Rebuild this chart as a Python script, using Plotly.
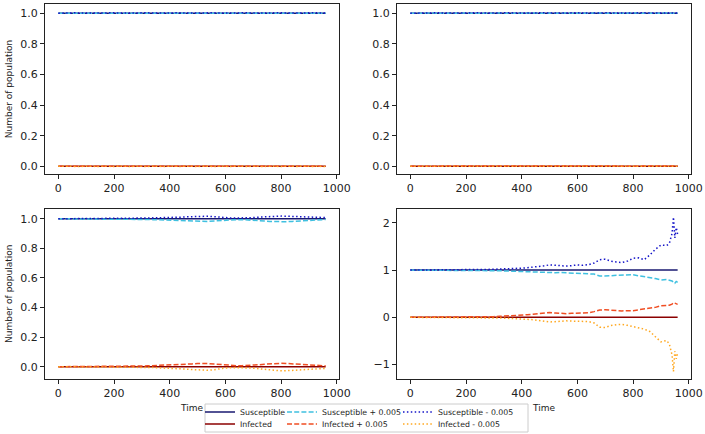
import plotly.graph_objects as go

# ---------------- data ----------------
time = [0, 20, 40, 60, 80, 100, 120, 140, 160, 180,
        200, 220, 240, 260, 280, 300, 320, 340, 360, 380,
        400, 420, 440, 460, 480, 500, 520, 540, 560, 580,
        600, 620, 640, 660, 680, 700, 720, 740, 760, 780,
        800, 820, 840, 860, 880, 900, 920, 930, 940, 945,
        950, 955, 960]

susceptible = [1.0, 1.0, 1.0, 1.0, 1.0, 1.0, 1.0, 1.0, 1.0, 1.0,
               1.0, 1.0, 1.0, 1.0, 1.0, 1.0, 1.0, 1.0, 1.0, 1.0,
               1.0, 1.0, 1.0, 1.0, 1.0, 1.0, 1.0, 1.0, 1.0, 1.0,
               1.0, 1.0, 1.0, 1.0, 1.0, 1.0, 1.0, 1.0, 1.0, 1.0,
               1.0, 1.0, 1.0, 1.0, 1.0, 1.0, 1.0, 1.0, 1.0, 1.0,
               1.0, 1.0, 1.0]
infected = [0.0, 0.0, 0.0, 0.0, 0.0, 0.0, 0.0, 0.0, 0.0, 0.0,
            0.0, 0.0, 0.0, 0.0, 0.0, 0.0, 0.0, 0.0, 0.0, 0.0,
            0.0, 0.0, 0.0, 0.0, 0.0, 0.0, 0.0, 0.0, 0.0, 0.0,
            0.0, 0.0, 0.0, 0.0, 0.0, 0.0, 0.0, 0.0, 0.0, 0.0,
            0.0, 0.0, 0.0, 0.0, 0.0, 0.0, 0.0, 0.0, 0.0, 0.0,
            0.0, 0.0, 0.0]

# top-left panel
tl_sus_plus = [1.000, 1.000, 1.001, 1.001, 1.000, 1.001, 1.001, 1.000, 1.001, 1.001,
               1.000, 1.001, 1.001, 1.000, 1.001, 1.001, 1.000, 1.001, 1.001, 1.000,
               1.001, 1.001, 1.000, 1.001, 1.001, 1.000, 1.001, 1.001, 1.000, 1.001,
               1.001, 1.000, 1.001, 1.001, 1.000, 1.001, 1.001, 1.000, 1.001, 1.001,
               1.000, 1.001, 1.001, 1.000, 1.001, 1.001, 1.000, 1.001, 1.001, 1.000,
               1.001, 1.001, 1.000]
tl_inf_plus = [0.000, 0.000, 0.001, 0.001, 0.000, 0.001, 0.001, 0.000, 0.001, 0.001,
               0.000, 0.001, 0.001, 0.000, 0.001, 0.001, 0.000, 0.001, 0.001, 0.000,
               0.001, 0.001, 0.000, 0.001, 0.001, 0.000, 0.001, 0.001, 0.000, 0.001,
               0.001, 0.000, 0.001, 0.001, 0.000, 0.001, 0.001, 0.000, 0.001, 0.001,
               0.000, 0.001, 0.001, 0.000, 0.001, 0.001, 0.000, 0.001, 0.001, 0.000,
               0.001, 0.001, 0.000]
tl_sus_minus = [1.000, 1.002, 1.001, 1.003, 1.002, 1.001, 1.003, 1.002, 1.001, 1.003,
                1.002, 1.001, 1.003, 1.002, 1.001, 1.003, 1.002, 1.001, 1.003, 1.002,
                1.001, 1.003, 1.002, 1.001, 1.003, 1.002, 1.001, 1.003, 1.002, 1.001,
                1.003, 1.002, 1.001, 1.003, 1.002, 1.001, 1.003, 1.002, 1.001, 1.003,
                1.002, 1.001, 1.003, 1.002, 1.001, 1.003, 1.002, 1.001, 1.003, 1.002,
                1.001, 1.003, 1.002]
tl_inf_minus = [0.000, -0.001, 0.000, -0.002, -0.001, 0.000, -0.002, -0.001, 0.000, -0.002,
                -0.001, 0.000, -0.002, -0.001, 0.000, -0.002, -0.001, 0.000, -0.002, -0.001,
                0.000, -0.002, -0.001, 0.000, -0.002, -0.001, 0.000, -0.002, -0.001, 0.000,
                -0.002, -0.001, 0.000, -0.002, -0.001, 0.000, -0.002, -0.001, 0.000, -0.002,
                -0.001, 0.000, -0.002, -0.001, 0.000, -0.002, -0.001, 0.000, -0.002, -0.001,
                0.000, -0.002, -0.001]

# top-right panel
tr_sus_plus = [1.000, 1.001, 1.000, 1.001, 1.001, 1.000, 1.001, 1.001, 1.000, 1.001,
               1.001, 1.000, 1.001, 1.001, 1.000, 1.001, 1.001, 1.000, 1.001, 1.001,
               1.000, 1.001, 1.001, 1.000, 1.001, 1.001, 1.000, 1.001, 1.001, 1.000,
               1.001, 1.001, 1.000, 1.001, 1.001, 1.000, 1.001, 1.001, 1.000, 1.001,
               1.001, 1.000, 1.001, 1.001, 1.000, 1.001, 1.001, 1.000, 1.001, 1.001,
               1.000, 1.001, 1.001]
tr_inf_plus = [0.000, 0.001, 0.000, 0.001, 0.001, 0.000, 0.001, 0.001, 0.000, 0.001,
               0.001, 0.000, 0.001, 0.001, 0.000, 0.001, 0.001, 0.000, 0.001, 0.001,
               0.000, 0.001, 0.001, 0.000, 0.001, 0.001, 0.000, 0.001, 0.001, 0.000,
               0.001, 0.001, 0.000, 0.001, 0.001, 0.000, 0.001, 0.001, 0.000, 0.001,
               0.001, 0.000, 0.001, 0.001, 0.000, 0.001, 0.001, 0.000, 0.001, 0.001,
               0.000, 0.001, 0.001]
tr_sus_minus = [1.000, 1.001, 1.003, 1.002, 1.001, 1.003, 1.002, 1.001, 1.003, 1.002,
                1.001, 1.003, 1.002, 1.001, 1.003, 1.002, 1.001, 1.003, 1.002, 1.001,
                1.003, 1.002, 1.001, 1.003, 1.002, 1.001, 1.003, 1.002, 1.001, 1.003,
                1.002, 1.001, 1.003, 1.002, 1.001, 1.003, 1.002, 1.001, 1.003, 1.002,
                1.001, 1.003, 1.002, 1.001, 1.003, 1.002, 1.001, 1.003, 1.002, 1.001,
                1.003, 1.002, 1.001]
tr_inf_minus = [0.000, 0.000, -0.002, -0.001, 0.000, -0.002, -0.001, 0.000, -0.002, -0.001,
                0.000, -0.002, -0.001, 0.000, -0.002, -0.001, 0.000, -0.002, -0.001, 0.000,
                -0.002, -0.001, 0.000, -0.002, -0.001, 0.000, -0.002, -0.001, 0.000, -0.002,
                -0.001, 0.000, -0.002, -0.001, 0.000, -0.002, -0.001, 0.000, -0.002, -0.001,
                0.000, -0.002, -0.001, 0.000, -0.002, -0.001, 0.000, -0.002, -0.001, 0.000,
                -0.002, -0.001, 0.000]

# bottom-left panel
bl_sus_plus = [1.000, 1.000, 0.999, 0.999, 0.999, 0.999, 0.998, 0.998, 0.998, 0.998,
               0.997, 0.997, 0.997, 0.996, 0.996, 0.995, 0.995, 0.994, 0.993, 0.992,
               0.991, 0.990, 0.988, 0.986, 0.984, 0.982, 0.981, 0.982, 0.985, 0.988,
               0.991, 0.993, 0.994, 0.994, 0.993, 0.991, 0.988, 0.985, 0.982, 0.980,
               0.979, 0.980, 0.982, 0.985, 0.988, 0.990, 0.992, 0.993, 0.993, 0.994,
               0.994, 0.994, 0.995]
bl_inf_plus = [0.000, 0.000, 0.001, 0.001, 0.001, 0.001, 0.002, 0.002, 0.002, 0.002,
               0.003, 0.003, 0.003, 0.004, 0.004, 0.005, 0.006, 0.007, 0.008, 0.009,
               0.010, 0.012, 0.014, 0.017, 0.019, 0.021, 0.022, 0.021, 0.018, 0.014,
               0.010, 0.008, 0.007, 0.007, 0.008, 0.010, 0.013, 0.017, 0.020, 0.022,
               0.023, 0.022, 0.020, 0.017, 0.014, 0.011, 0.009, 0.008, 0.008, 0.007,
               0.007, 0.006, 0.006]
bl_sus_minus = [1.000, 1.000, 1.001, 1.001, 1.001, 1.001, 1.002, 1.002, 1.002, 1.002,
                1.003, 1.003, 1.003, 1.004, 1.004, 1.005, 1.005, 1.006, 1.006, 1.007,
                1.008, 1.009, 1.011, 1.013, 1.015, 1.016, 1.017, 1.017, 1.014, 1.010,
                1.007, 1.005, 1.005, 1.005, 1.006, 1.008, 1.011, 1.014, 1.016, 1.017,
                1.018, 1.017, 1.016, 1.014, 1.012, 1.010, 1.009, 1.009, 1.008, 1.008,
                1.008, 1.008, 1.008]
bl_inf_minus = [0.000, 0.000, -0.001, -0.001, -0.001, -0.001, -0.002, -0.002, -0.002, -0.002,
                -0.003, -0.003, -0.003, -0.004, -0.004, -0.005, -0.005, -0.006, -0.007, -0.008,
                -0.009, -0.011, -0.013, -0.016, -0.019, -0.021, -0.023, -0.024, -0.020, -0.013,
                -0.009, -0.007, -0.006, -0.006, -0.008, -0.010, -0.014, -0.018, -0.022, -0.025,
                -0.028, -0.027, -0.025, -0.022, -0.018, -0.015, -0.013, -0.012, -0.012, -0.012,
                -0.012, -0.012, -0.011]

# bottom-right panel
br_sus_plus = [1.000, 1.000, 1.000, 0.999, 0.999, 0.999, 0.998, 0.998, 0.997, 0.997,
               0.997, 0.996, 0.994, 0.993, 0.991, 0.990, 0.986, 0.982, 0.978, 0.970,
               0.962, 0.955, 0.950, 0.948, 0.945, 0.940, 0.945, 0.948, 0.942, 0.938,
               0.935, 0.938, 0.932, 0.915, 0.875, 0.870, 0.880, 0.890, 0.892, 0.895,
               0.900, 0.880, 0.860, 0.850, 0.820, 0.790, 0.800, 0.785, 0.770, 0.740,
               0.720, 0.760, 0.740]
br_inf_plus = [0.000, 0.000, 0.000, 0.001, 0.001, 0.001, 0.002, 0.002, 0.003, 0.003,
               0.004, 0.005, 0.007, 0.009, 0.012, 0.015, 0.020, 0.024, 0.028, 0.035,
               0.045, 0.055, 0.065, 0.075, 0.090, 0.100, 0.092, 0.080, 0.078, 0.085,
               0.092, 0.090, 0.095, 0.120, 0.155, 0.160, 0.150, 0.140, 0.135, 0.140,
               0.140, 0.160, 0.175, 0.185, 0.210, 0.245, 0.250, 0.255, 0.280, 0.310,
               0.300, 0.285, 0.275]
br_sus_minus = [1.000, 1.000, 1.000, 1.001, 1.001, 1.002, 1.002, 1.003, 1.004, 1.005,
                1.006, 1.008, 1.010, 1.012, 1.015, 1.018, 1.020, 1.024, 1.028, 1.032,
                1.040, 1.050, 1.060, 1.075, 1.090, 1.110, 1.100, 1.085, 1.085, 1.095,
                1.110, 1.100, 1.115, 1.150, 1.220, 1.230, 1.190, 1.170, 1.160, 1.190,
                1.250, 1.260, 1.220, 1.320, 1.440, 1.530, 1.520, 1.560, 1.780, 2.120,
                1.680, 1.900, 1.760]
br_inf_minus = [0.000, 0.000, 0.000, -0.001, -0.001, -0.001, -0.002, -0.002, -0.003, -0.003,
                -0.004, -0.006, -0.008, -0.009, -0.011, -0.013, -0.015, -0.018, -0.022, -0.026,
                -0.032, -0.040, -0.050, -0.065, -0.080, -0.100, -0.092, -0.078, -0.075, -0.080,
                -0.085, -0.082, -0.090, -0.120, -0.210, -0.215, -0.175, -0.155, -0.150, -0.170,
                -0.200, -0.230, -0.250, -0.300, -0.420, -0.520, -0.490, -0.560, -0.800, -1.150,
                -0.720, -0.880, -0.760]

series_names = ["Susceptible", "Infected", "Susceptible + 0.005",
                "Infected + 0.005", "Susceptible - 0.005", "Infected - 0.005"]
x_ticks = [0, 200, 400, 600, 800, 1000]
y_ticks_top = [0.0, 0.2, 0.4, 0.6, 0.8, 1.0]
y_ticks_br = [-1, 0, 1, 2]

panels = [
    (tl_sus_plus, tl_inf_plus, tl_sus_minus, tl_inf_minus),
    (tr_sus_plus, tr_inf_plus, tr_sus_minus, tr_inf_minus),
    (bl_sus_plus, bl_inf_plus, bl_sus_minus, bl_inf_minus),
    (br_sus_plus, br_inf_plus, br_sus_minus, br_inf_minus),
]

# ---------------- styles ----------------
colors = ["#191970", "#8B0000", "#3FC0E0", "#F04E23", "#1414C8", "#FFA820"]
dashes = ["solid", "solid", "5px,2.2px", "5px,2.2px", "1.5px,2.4px", "1.5px,2.4px"]
legend_ids = ["legend", "legend2", "legend", "legend2", "legend", "legend2"]
legend_widths = [37, 37, 71, 71, 80, 80]
FONT = "DejaVu Sans"
W, H = 705, 434

fig = go.Figure()
for p, (sp, ip, sm, im) in enumerate(panels):
    ys = [susceptible, infected, sp, ip, sm, im]
    ax = "" if p == 0 else str(p + 1)
    for k in range(6):
        fig.add_trace(go.Scatter(
            x=time, y=ys[k], mode="lines", name=series_names[k],
            line=dict(color=colors[k], width=1.5, dash=dashes[k]),
            xaxis="x" + ax, yaxis="y" + ax,
            showlegend=(p == 0), legend=legend_ids[k],
            legendwidth=legend_widths[k],
        ))

xl = [45 / W, 339 / W]
xr = [397 / W, 691 / W]
yt = [1 - 174 / H, 1 - 4 / H]
yb = [1 - 378.7 / H, 1 - 208.7 / H]

def axis_common():
    return dict(showline=True, linecolor="#222", linewidth=1, mirror=True,
                ticks="outside", ticklen=4, tickwidth=1, tickcolor="#222",
                showgrid=False, zeroline=False, automargin=False,
                ticklabeloverflow="allow",
                tickfont=dict(family=FONT, size=11, color="#222"))

def xaxis(domain, anchor, title=None):
    d = axis_common()
    d.update(domain=domain, anchor=anchor, range=[-48, 1008], tickvals=x_ticks)
    if title:
        d["title"] = dict(text=title, font=dict(family=FONT, size=9, color="#222"), standoff=5)
    return d

def yaxis(domain, anchor, rng, ticks, fmt, title=None):
    d = axis_common()
    d.update(domain=domain, anchor=anchor, range=rng, tickvals=ticks, tickformat=fmt)
    if title:
        d["title"] = dict(text=title, font=dict(family=FONT, size=9, color="#222"), standoff=6)
    return d

top_range = [-0.0505, 1.0605]
fig.update_layout(
    width=W, height=H,
    margin=dict(l=0, r=0, t=0, b=0, autoexpand=False),
    paper_bgcolor="white", plot_bgcolor="white",
    font=dict(family=FONT, color="#222"),
    xaxis=xaxis(xl, "y"),
    yaxis=yaxis(yt, "x", top_range, y_ticks_top, ".1f", "Number of population"),
    xaxis2=xaxis(xr, "y2"),
    yaxis2=yaxis(yt, "x2", top_range, y_ticks_top, ".1f"),
    xaxis3=xaxis(xl, "y3", "Time"),
    yaxis3=yaxis(yb, "x3", [-0.081, 1.068], y_ticks_top, ".1f", "Number of population"),
    xaxis4=xaxis(xr, "y4", "Time"),
    yaxis4=yaxis(yb, "x4", [-1.30, 2.30], y_ticks_br, "d"),
    legend=dict(orientation="h", x=200 / W, xanchor="left", y=1 - 412 / H, yanchor="middle",
                bgcolor="rgba(0,0,0,0)", borderwidth=0,
                font=dict(family=FONT, size=7.8, color="#222")),
    legend2=dict(orientation="h", x=200 / W, xanchor="left", y=1 - 424 / H, yanchor="middle",
                 bgcolor="rgba(0,0,0,0)", borderwidth=0,
                 font=dict(family=FONT, size=7.8, color="#222")),
    shapes=[dict(type="rect", xref="paper", yref="paper",
                 x0=205 / W, x1=528 / W, y0=1 - 432 / H, y1=1 - 404 / H,
                 line=dict(color="#cccccc", width=1),
                 fillcolor="rgba(255,255,255,0.8)", layer="above")],
)

fig.write_html(
    "out.html",
    config={"displayModeBar": False},
    post_script=("document.documentElement.style.margin='0';"
                 "document.body.style.margin='0';document.body.style.padding='0';"
                 "document.documentElement.style.overflow='hidden';"
                 "document.body.style.overflow='hidden';"),
)
